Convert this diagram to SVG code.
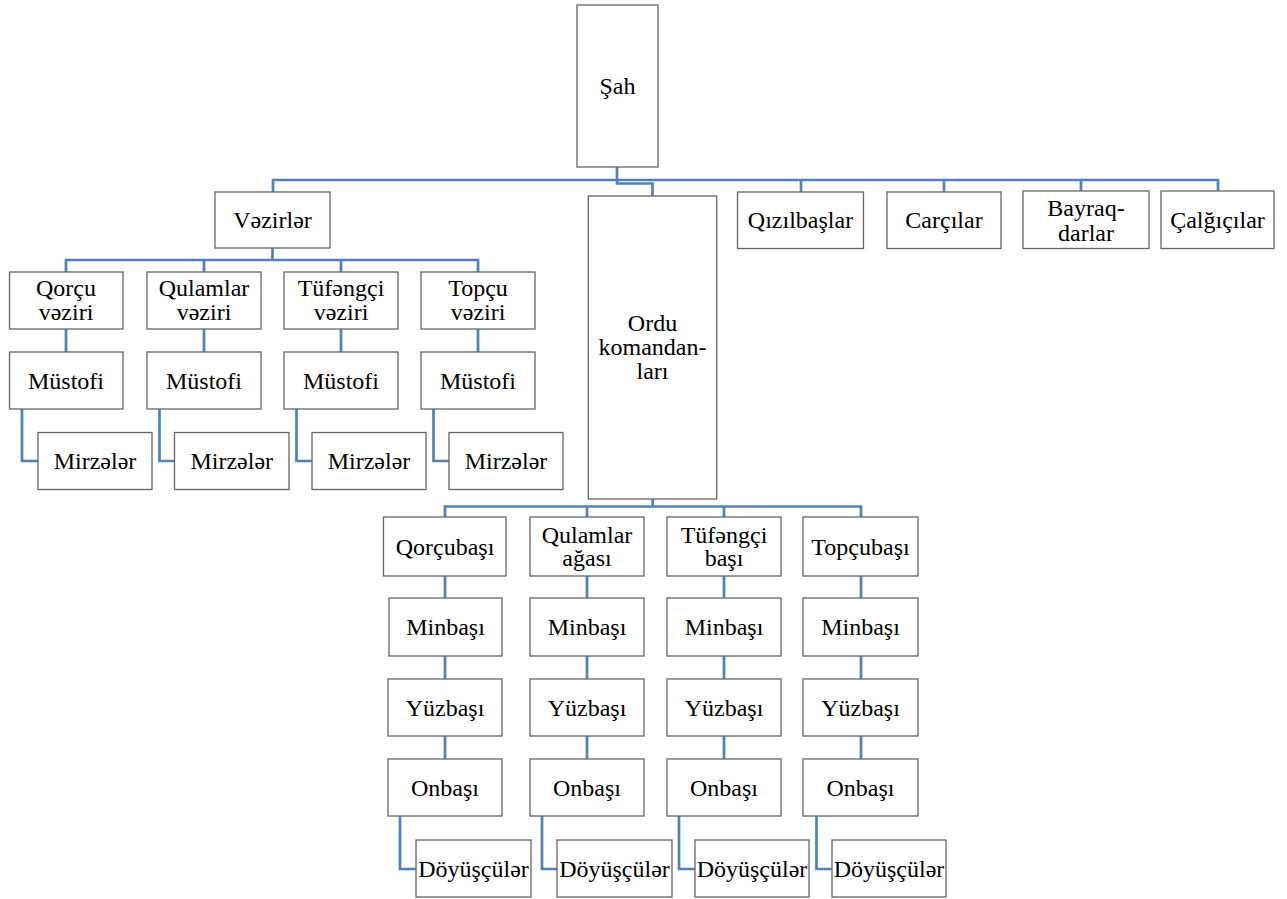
<svg xmlns="http://www.w3.org/2000/svg" width="1287" height="899" viewBox="0 0 1287 899">
<style>
.box{fill:#fff;stroke:#666;stroke-width:1.3}
.t{font-family:"Liberation Serif","Times New Roman","DejaVu Serif",serif;font-size:24px;text-anchor:middle;fill:#000}
.c{fill:none;stroke:#4f81bd;stroke-width:2.7}
</style>
<rect width="1287" height="899" fill="#fff"/>
<g id="connectors" class="c">
<path d="M617,167 V180"/>
<path d="M273,192 V180 H1218 V191"/>
<path d="M801,180 V192"/>
<path d="M944,180 V192"/>
<path d="M1081,180 V191"/>
<path d="M617,180 V183.5 H652.5 V196"/>
<path d="M272.5,248 V260"/>
<path d="M66,272 V260 H478 V272"/>
<path d="M204,260 V272"/>
<path d="M341,260 V272"/>
<path d="M66,329 V352"/>
<path d="M204,329 V352"/>
<path d="M341,329 V352"/>
<path d="M478,329 V352"/>
<path d="M22,409 V461 H38"/>
<path d="M159.5,409 V461 H174.5"/>
<path d="M296.5,409 V461 H312"/>
<path d="M433.5,409 V461 H449"/>
<path d="M652.7,499 V506.5"/>
<path d="M445,517 V506.5 H861 V517"/>
<path d="M587,506.5 V517"/>
<path d="M724,506.5 V517"/>
<path d="M445,576 V598 M445,656 V679 M445,736 V759"/>
<path d="M587,576 V598 M587,656 V679 M587,736 V759"/>
<path d="M724,576 V598 M724,656 V679 M724,736 V759"/>
<path d="M861,576 V598 M861,656 V679 M861,736 V759"/>
<path d="M400,816 V869 H416"/>
<path d="M542,816 V869 H557"/>
<path d="M679,816 V869 H695"/>
<path d="M816.5,816 V869 H832"/>
</g>
<g id="sah"><rect class="box" x="577" y="5" width="81" height="162"/><text class="t" x="617.5" y="94">Şah</text></g>
<g id="vezirler"><rect class="box" x="215" y="192" width="115" height="56"/><text class="t" x="272.5" y="228">Vəzirlər</text></g>
<g id="ordu"><rect class="box" x="588.3" y="196" width="128.4" height="303"/><text class="t" x="652.5" y="331">Ordu</text><text class="t" x="652.5" y="355">komandan-</text><text class="t" x="652.5" y="379">ları</text></g>
<g id="qizilbaslar"><rect class="box" x="737.5" y="192" width="126" height="56.5"/><text class="t" x="800.5" y="228">Qızılbaşlar</text></g>
<g id="carcilar"><rect class="box" x="887" y="192" width="114" height="56.5"/><text class="t" x="944" y="228">Carçılar</text></g>
<g id="bayraqdarlar"><rect class="box" x="1023" y="191" width="126" height="57.5"/><text class="t" x="1086" y="215.5">Bayraq-</text><text class="t" x="1086" y="240.5">darlar</text></g>
<g id="calgicilar"><rect class="box" x="1161" y="191" width="113" height="57.5"/><text class="t" x="1217.5" y="228">Çalğıçılar</text></g>

<g id="qorcu-veziri"><rect class="box" x="9.5" y="272" width="113.5" height="57"/><text class="t" x="66" y="296">Qorçu</text><text class="t" x="66" y="319.5">vəziri</text></g>
<g id="qulamlar-veziri"><rect class="box" x="147" y="272" width="114" height="57"/><text class="t" x="204" y="296">Qulamlar</text><text class="t" x="204" y="319.5">vəziri</text></g>
<g id="tufengci-veziri"><rect class="box" x="284" y="272" width="114" height="57"/><text class="t" x="341" y="296">Tüfəngçi</text><text class="t" x="341" y="319.5">vəziri</text></g>
<g id="topcu-veziri"><rect class="box" x="421" y="272" width="114" height="57"/><text class="t" x="478" y="296">Topçu</text><text class="t" x="478" y="319.5">vəziri</text></g>

<g id="mustofi-1"><rect class="box" x="9.5" y="352" width="113.5" height="57"/><text class="t" x="66" y="389">Müstofi</text></g>
<g id="mustofi-2"><rect class="box" x="147" y="352" width="114" height="57"/><text class="t" x="204" y="389">Müstofi</text></g>
<g id="mustofi-3"><rect class="box" x="284" y="352" width="114" height="57"/><text class="t" x="341" y="389">Müstofi</text></g>
<g id="mustofi-4"><rect class="box" x="421" y="352" width="114" height="57"/><text class="t" x="478" y="389">Müstofi</text></g>

<g id="mirzeler-1"><rect class="box" x="38" y="432.5" width="114" height="57"/><text class="t" x="95" y="469">Mirzələr</text></g>
<g id="mirzeler-2"><rect class="box" x="174.5" y="432.5" width="114.5" height="57"/><text class="t" x="231.75" y="469">Mirzələr</text></g>
<g id="mirzeler-3"><rect class="box" x="312" y="432.5" width="114" height="57"/><text class="t" x="369" y="469">Mirzələr</text></g>
<g id="mirzeler-4"><rect class="box" x="449" y="432.5" width="114" height="57"/><text class="t" x="506" y="469">Mirzələr</text></g>

<g id="qorcubasi"><rect class="box" x="383.5" y="517" width="122.5" height="59"/><text class="t" x="445" y="554.5">Qorçubaşı</text></g>
<g id="qulamlar-agasi"><rect class="box" x="530" y="517" width="114" height="59"/><text class="t" x="587" y="542.5">Qulamlar</text><text class="t" x="587" y="566">ağası</text></g>
<g id="tufengci-basi"><rect class="box" x="667" y="517" width="114" height="59"/><text class="t" x="724" y="542.5">Tüfəngçi</text><text class="t" x="724" y="566">başı</text></g>
<g id="topcubasi"><rect class="box" x="803" y="517" width="115" height="59"/><text class="t" x="860.5" y="554.5">Topçubaşı</text></g>

<g id="minbasi-1"><rect class="box" x="389" y="598" width="113" height="58"/><text class="t" x="445.5" y="635">Minbaşı</text></g>
<g id="minbasi-2"><rect class="box" x="530" y="598" width="114" height="58"/><text class="t" x="587" y="635">Minbaşı</text></g>
<g id="minbasi-3"><rect class="box" x="667" y="598" width="114" height="58"/><text class="t" x="724" y="635">Minbaşı</text></g>
<g id="minbasi-4"><rect class="box" x="803" y="598" width="115" height="58"/><text class="t" x="860.5" y="635">Minbaşı</text></g>

<g id="yuzbasi-1"><rect class="box" x="388" y="679" width="114" height="57"/><text class="t" x="445" y="715.5">Yüzbaşı</text></g>
<g id="yuzbasi-2"><rect class="box" x="530" y="679" width="114" height="57"/><text class="t" x="587" y="715.5">Yüzbaşı</text></g>
<g id="yuzbasi-3"><rect class="box" x="667" y="679" width="114" height="57"/><text class="t" x="724" y="715.5">Yüzbaşı</text></g>
<g id="yuzbasi-4"><rect class="box" x="803" y="679" width="115" height="57"/><text class="t" x="860.5" y="715.5">Yüzbaşı</text></g>

<g id="onbasi-1"><rect class="box" x="388" y="759" width="114" height="57"/><text class="t" x="445" y="795.5">Onbaşı</text></g>
<g id="onbasi-2"><rect class="box" x="530" y="759" width="114" height="57"/><text class="t" x="587" y="795.5">Onbaşı</text></g>
<g id="onbasi-3"><rect class="box" x="667" y="759" width="114" height="57"/><text class="t" x="724" y="795.5">Onbaşı</text></g>
<g id="onbasi-4"><rect class="box" x="803" y="759" width="115" height="57"/><text class="t" x="860.5" y="795.5">Onbaşı</text></g>

<g id="doyusculer-1"><rect class="box" x="416" y="840" width="115" height="57"/><text class="t" x="473.5" y="876.5">Döyüşçülər</text></g>
<g id="doyusculer-2"><rect class="box" x="557" y="840" width="115" height="57"/><text class="t" x="614.5" y="876.5">Döyüşçülər</text></g>
<g id="doyusculer-3"><rect class="box" x="695" y="840" width="114" height="57"/><text class="t" x="752" y="876.5">Döyüşçülər</text></g>
<g id="doyusculer-4"><rect class="box" x="832" y="840" width="114" height="57"/><text class="t" x="889" y="876.5">Döyüşçülər</text></g>
</svg>
